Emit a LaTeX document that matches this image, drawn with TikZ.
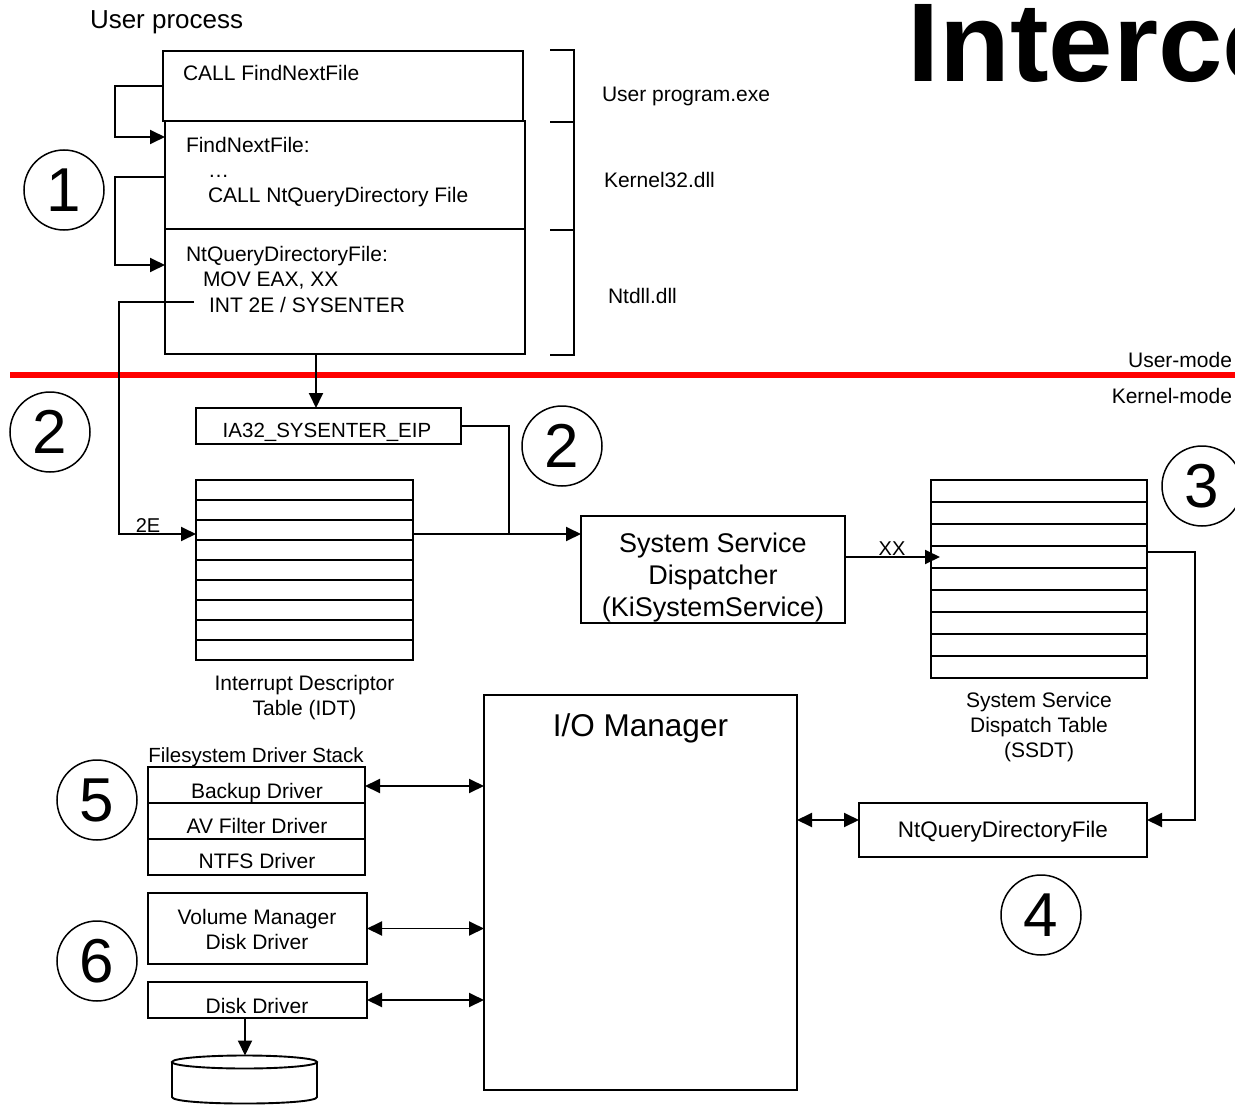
\documentclass[tikz,border=0pt]{standalone}
\usepackage{fontspec}
\setmainfont{Liberation Sans}
\usetikzlibrary{arrows.meta,calc}
\begin{document}
\begin{tikzpicture}[x=1pt,y=-1pt,
  every node/.style={inner sep=0pt, outer sep=0pt},
  box/.style={draw, line width=1.9pt, rectangle},
  ln/.style={line width=1.9pt},
  arr/.style={line width=1.9pt, -{Triangle[length=15pt,width=14pt]}},
  darr/.style={line width=1.9pt, {Triangle[length=15pt,width=14pt]}-{Triangle[length=15pt,width=14pt]}},
  txt/.style={font=\fontsize{21}{25}\selectfont},
  small/.style={font=\fontsize{20}{24}\selectfont},
  circ/.style={draw, circle, line width=1.5pt, minimum size=80pt, font=\fontsize{62}{62}\selectfont},
]
\useasboundingbox (0,0) rectangle (1235,1105);

% title
\node[font=\fontsize{112}{114}\selectfont\bfseries, anchor=base west] (title) at (907,82) {\scalebox{1.035}[1]{Interce}};

% user process
\node[font=\fontsize{26}{30}\selectfont, anchor=base west] (up) at (90,29) {User process};

% top boxes
\node[box, minimum width=360, minimum height=70] (b1) at (343,86) {};
\node[box, minimum width=360, minimum height=108] (b2) at (345,175) {};
\node[box, minimum width=360, minimum height=125] (b3) at (345,291.5) {};

\node[txt, anchor=base west] (t1) at (183,81) {CALL FindNextFile};
\node[txt, anchor=base west] (t2) at (186,153) {FindNextFile:};
\node[txt, anchor=base west] (t3) at (208,178) {…};
\node[txt, anchor=base west] (t4) at (208,203) {CALL NtQueryDirectory File};
\node[txt, anchor=base west] (t5) at (186,261) {NtQueryDirectoryFile:};
\node[txt, anchor=base west] (t6) at (203,286) {MOV EAX, XX};
\node[txt, anchor=base west] (t7) at (209,312) {INT 2E / SYSENTER};

% brackets
\draw[ln] (550,50) -- (574,50) -- (574,122) -- (550,122);
\draw[ln] (574,122) -- (574,230) -- (550,230);
\draw[ln] (574,230) -- (574,355) -- (550,355);
\node[txt, anchor=base west] (l1) at (602,102) {User program.exe};
\node[txt, anchor=base west] (l2) at (604,188) {Kernel32.dll};
\node[txt, anchor=base west] (l3) at (608,303) {Ntdll.dll};

% circle 1
\node[circ] (c1) at (64,190) {1};

% loops
\draw[arr] (b1.west) -- ++(-48,0) |- ($(b2.north west)+(0,16)$);
\draw[arr] ($(b2.west)+(0,2)$) -- ++(-50,0) |- ($(b3.north west)+(0,36)$);

% mode line
\draw[red, line width=6pt] (10,374.5) -- (1235,374.5);
\node[txt, anchor=base east] (um) at (1232,367) {User-mode};
\node[txt, anchor=base east] (km) at (1232,403) {Kernel-mode};

% IA32
\node[box, minimum width=265, minimum height=36, anchor=north west] (ia32) at (196,408) {};
\node[font=\fontsize{20.5}{24}\selectfont, anchor=base] (ia32t) at (327,437) {IA32\_SYSENTER\_EIP};
\coordinate (b3out) at ($(b3.south west)+(151,0)$);
\draw[arr] (b3out) -- (b3out |- ia32.north);

% IDT
\node[box, minimum width=217, minimum height=180, anchor=north west] (idt) at (196,480) {};
\foreach \i in {1,...,8} \draw[ln] ($(idt.north west)+(0,20*\i)$) -- ($(idt.north east)+(0,20*\i)$);
\node[txt, align=center] (idtl) at (304.5,698) {Interrupt Descriptor\\Table (IDT)};

% circles 2
\node[circ] (c2a) at (50,432) {2};
\node[circ] (c2b) at (562,446) {2};

% int 2E path
\coordinate (intsrc) at (194,302);
\coordinate (idtin) at ($(idt.north west)+(0,54)$);
\draw[arr] (intsrc) -- ++(-75,0) |- (idtin);
\node[small] (l2e) at (148,526) {2E};

% dispatcher
\node[box, minimum width=264, minimum height=107] (disp) at (713,569.5) {};
\node[font=\fontsize{27}{32}\selectfont, align=center] (dispt) at (713,578) {System Service\\Dispatcher\\(KiSystemService)};
\coordinate (idtout) at ($(idt.north east)+(0,54)$);
\draw[arr] (idtout) -- (idtout -| disp.west);
\coordinate (join) at ($(idt.north east)+(96,54)$);
\draw[ln] (ia32.east) -| (join);

% SSDT
\node[box, minimum width=216, minimum height=198, anchor=north west] (ssdt) at (931,480) {};
\foreach \i in {1,...,8} \draw[ln] ($(ssdt.north west)+(0,22*\i)$) -- ($(ssdt.north east)+(0,22*\i)$);
\node[txt, align=center] (ssdtl) at (1039,727.5) {System Service\\Dispatch Table\\(SSDT)};
\coordinate (dispout) at ($(disp.north east)+(0,41)$);
\coordinate (ssdtin) at ($(ssdt.north west)+(9,77)$);
\draw[arr] (dispout) -- (ssdtin);
\node[small] (lxx) at (892,549) {XX};
\node[circ] (c3) at (1202,486) {3};

% NtQueryDirectoryFile
\node[box, minimum width=288, minimum height=54, anchor=north west] (ntq) at (859,803) {};
\node[font=\fontsize{22.5}{27}\selectfont, anchor=base] (ntqt) at (1003,837) {NtQueryDirectoryFile};
\coordinate (ssdtout) at ($(ssdt.north east)+(0,72)$);
\coordinate (ntqin) at ($(ntq.north east)+(0,17)$);
\draw[arr] (ssdtout) -- ++(48,0) |- (ntqin);
\node[circ] (c4) at (1041,915) {4};

% I/O manager
\node[box, minimum width=313, minimum height=395, anchor=north west] (iom) at (484,695) {};
\node[font=\fontsize{31.5}{36}\selectfont, anchor=base] (iomt) at (640.5,736) {I/O Manager};
\coordinate (iomr) at ($(iom.north east)+(0,125)$);
\coordinate (ntql) at ($(ntq.north west)+(0,17)$);
\draw[darr] (iomr) -- (ntql);

% filesystem stack
\node[font=\fontsize{20.5}{24}\selectfont, anchor=base] (fsl) at (256,762) {Filesystem Driver Stack};
\node[box, minimum width=217, minimum height=108, anchor=north west] (stack) at (148,767) {};
\draw[ln] ($(stack.north west)+(0,36)$) -- ($(stack.north east)+(0,36)$);
\draw[ln] ($(stack.north west)+(0,72)$) -- ($(stack.north east)+(0,72)$);
\node[txt, anchor=base] (s1) at (257,798) {Backup Driver};
\node[txt, anchor=base] (s2) at (257,833) {AV Filter Driver};
\node[txt, anchor=base] (s3) at (257,868) {NTFS Driver};
\coordinate (stout) at ($(stack.north east)+(0,19)$);
\draw[darr] (stout) -- (stout -| iom.west);
\node[circ] (c5) at (97,800) {5};

% volume manager
\node[box, minimum width=219, minimum height=71, anchor=north west] (vol) at (148,893) {};
\node[txt, align=center] (volt) at (257,929) {Volume Manager\\Disk Driver};
\draw[darr] (vol.east) -- (vol.east -| iom.west);
\node[circ] (c6) at (97,961) {6};

% disk driver
\node[box, minimum width=219, minimum height=36, anchor=north west] (dd) at (148,982) {};
\node[txt, anchor=base] (ddt) at (257,1013) {Disk Driver};
\draw[darr] (dd.east) -- (dd.east -| iom.west);

% disk cylinder
\coordinate (ddout) at ($(dd.south west)+(97,0)$);
\coordinate (cyltop) at (245,1055.5);
\draw[arr] (ddout) -- (cyltop);
\draw[ln] (172,1062) -- (172,1097) .. controls (172,1105.7) and (317,1105.7) .. (317,1097) -- (317,1062);
\draw[ln] (244.5,1062) ellipse [x radius=72.5, y radius=6.5];
\end{tikzpicture}
\end{document}
